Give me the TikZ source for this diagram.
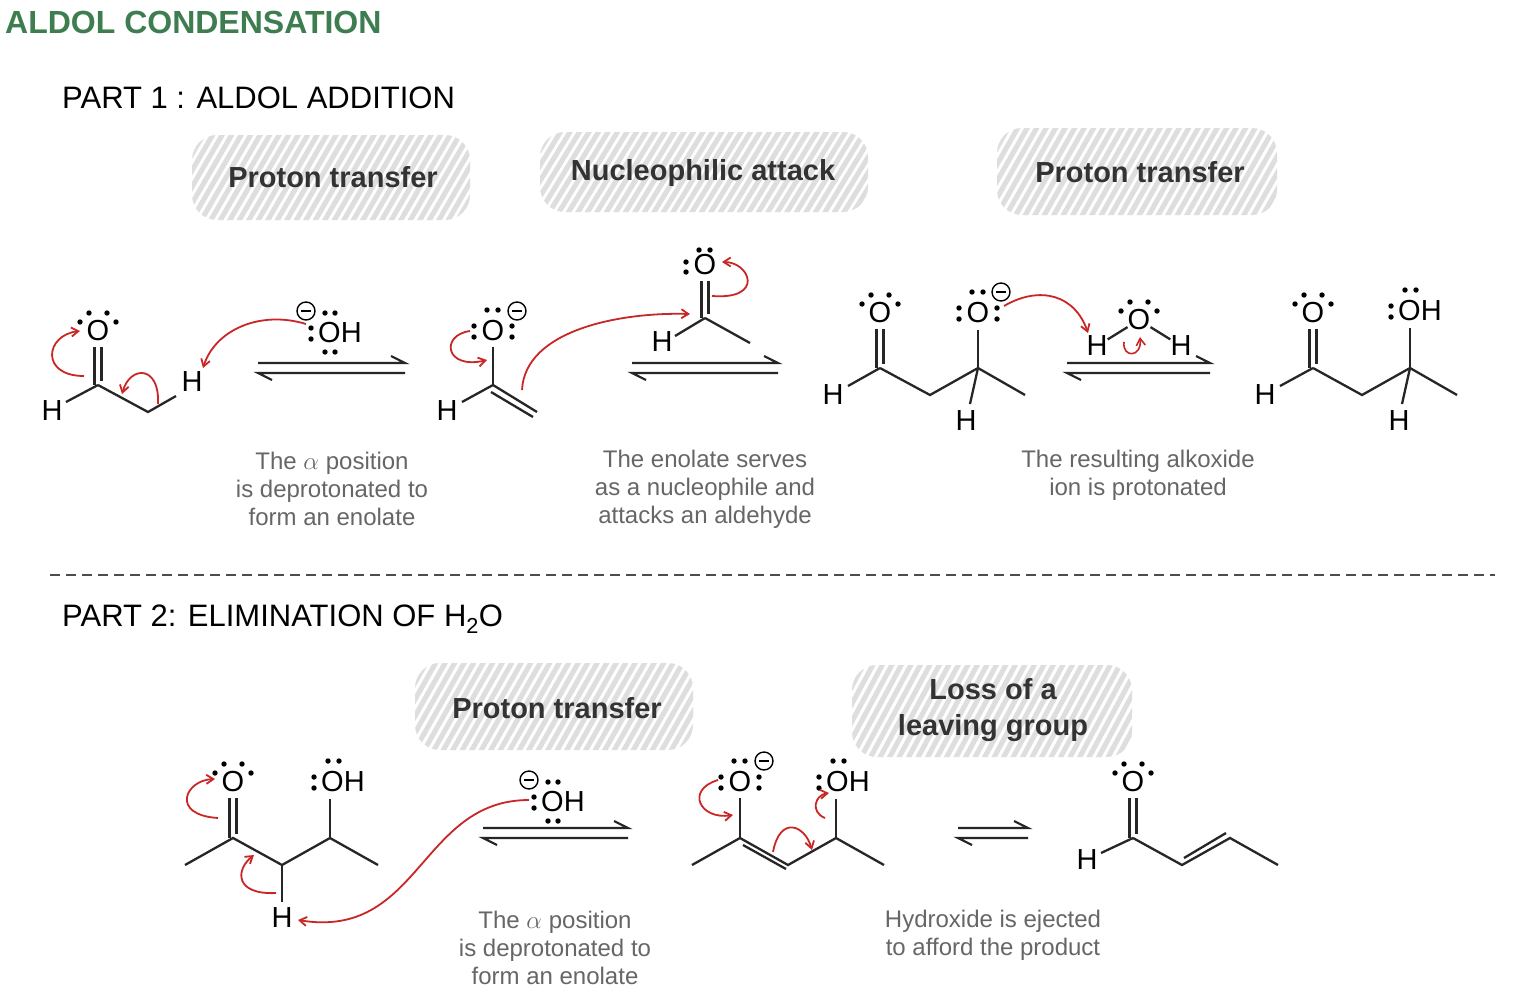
\documentclass[tikz,border=0pt]{standalone}
\usepackage{fontspec}
\setmainfont{Liberation Sans}
\usetikzlibrary{arrows.meta}
\begin{document}
\begin{tikzpicture}[x=1pt,y=-1pt,
  atom/.style={inner sep=0pt,font=\fontsize{29}{29}\selectfont},
  hdr/.style={inner sep=0pt,font=\fontsize{29}{29}\selectfont\bfseries,text=black!80,align=center},
  note/.style={inner sep=0pt,font=\fontsize{24}{28}\selectfont,text=black!60,align=center},
  part/.style={inner sep=0pt,anchor=west,font=\fontsize{31}{31}\selectfont},
  bond/.style={line width=2.3pt,black!85},
  rarr/.style={line width=1.8pt,color=red!75!black!85,-{Straight Barb[length=7pt,width=9pt]}},
  eq/.style={line width=2.2pt,black!85}]
\useasboundingbox (0,0) rectangle (1520,996);
\fill[white] (0,0) rectangle (1520,996);
\newcommand\lp[2]{\fill[black] (#1,#2) circle (2.7);}
\newcommand\Otop[2]{\lp{#1-18}{#2-9}\lp{#1-9}{#2-18}\lp{#1+9}{#2-18}\lp{#1+18}{#2-9}}
\newcommand\Oeno[2]{\lp{#1-19}{#2-5}\lp{#1-19}{#2+6}\lp{#1-6}{#2-21}\lp{#1+5}{#2-21}\lp{#1+19}{#2-5}\lp{#1+19}{#2+6}}
\newcommand\Ooh[2]{\lp{#1-19}{#2-5}\lp{#1-19}{#2+6}\lp{#1-5}{#2-21}\lp{#1+6}{#2-21}}
\newcommand\minus[2]{\draw[line width=1.4pt] (#1,#2) circle (9); \draw[line width=1.6pt] (#1-5,#2)--(#1+5,#2);}
\newcommand\hydroxide[2]{\node[atom,anchor=west] (hx) at (#1-12,#2) {OH};
  \lp{#1-19}{#2-5}\lp{#1-19}{#2+6}\lp{#1-5}{#2-20}\lp{#1+5}{#2-20}\lp{#1-5}{#2+19}\lp{#1+5}{#2+19}\minus{#1-24}{#2-22}}
\newcommand\eqarrow[3]{\draw[eq] (#1,#3)--(#2,#3)--(#2-14,#3-7); \draw[eq] (#2,#3+10)--(#1,#3+10)--(#1+14,#3+17);}
\newcommand\hatchbox[4]{\begin{scope}\clip[rounded corners=25] (#1,#2) rectangle (#3,#4);
  \foreach \k in {0,...,42}{\draw[line width=5pt,black!13,line cap=round] ({#1-60+\k*9.5},#4+5) -- ++(55,{#2-#4-10});}\end{scope}}
% title
\node[inner sep=0pt,anchor=west,font=\fontsize{32}{32}\selectfont\bfseries,text={rgb,255:red,62;green,125;blue,80}] (title) at (5,22) {ALDOL CONDENSATION};
\node[part] (p1) at (62,98) {PART 1 : ALDOL ADDITION};
\node[part] (p2) at (62,619) {PART 2: ELIMINATION OF H\textsubscript{2}O};
\draw[line width=2pt,black!70,dash pattern=on 10pt off 6pt] (50,575)--(1495,575);
% headers
\hatchbox{192}{135}{470}{220}\node[hdr] (h1) at (333,177) {Proton transfer};
\hatchbox{540}{132}{868}{212}\node[hdr] (h2) at (703,173) {Nucleophilic attack};
\hatchbox{997}{128}{1277}{215}\node[hdr] (h3) at (1140,172) {Proton transfer};
\hatchbox{415}{663}{693}{750}\node[hdr] (h4) at (557,708) {Proton transfer};
\hatchbox{852}{665}{1132}{757}\node[hdr,font=\fontsize{29}{36}\selectfont\bfseries] (h5) at (993,710) {Loss of a\\leaving group};
% notes
\node[note] (n1) at (332,489) {The $\alpha$ position\\is deprotonated to\\form an enolate};
\node[note] (n2) at (705,489) {The enolate serves\\as a nucleophile and\\attacks an aldehyde};
\node[note] (n3) at (1138,475) {The resulting alkoxide\\ion is protonated};
\node[note] (n4) at (555,948) {The $\alpha$ position\\is deprotonated to\\form an enolate};
\node[note] (n5) at (993,935) {Hydroxide is ejected\\to afford the product};
% ---- Mol A
\node[atom] (oa) at (98,331) {O}; \Otop{98}{331}
\node[atom] (ha1) at (52,411) {H}; \node[atom] (ha2) at (192,382) {H};
\coordinate (ca) at (98,385); \coordinate (cha) at (148,412);
\draw[bond] (94.5,347)--(94.5,385); \draw[bond] (101.5,347)--(101.5,381);
\draw[bond] (ca)--(66,402); \draw[bond] (ca)--(cha)--(176,396);
\draw[rarr] (84,376) .. controls (40,376) and (45,335) .. (80,331);
\draw[rarr] (158,404) .. controls (160,365) and (130,365) .. (122,394);
\hydroxide{330}{333}
\draw[rarr] (306,324) .. controls (260,310) and (215,330) .. (203,368);
\eqarrow{258}{405}{363}
% ---- Mol B
\node[atom] (ob) at (493,331) {O}; \Oeno{493}{331}\minus{517}{311}
\node[atom] (hb) at (447,411) {H};
\coordinate (cb) at (493,385); \coordinate (chb) at (537,412);
\draw[bond] (493,347)--(cb); \draw[bond] (cb)--(462,402);
\draw[bond] (cb)--(chb); \draw[bond] (491,392)--(533,417);
\draw[rarr] (470,331) .. controls (440,335) and (445,370) .. (487,360);
\draw[rarr] (522,390) .. controls (525,330) and (620,312) .. (690,314);
\node[atom] (oc) at (705,265) {O}; \lp{686}{262}\lp{686}{272}\lp{699}{250}\lp{710}{250}
\node[atom] (hc) at (662,342) {H};
\coordinate (cc) at (705,318);
\draw[bond] (701.5,281)--(701.5,318); \draw[bond] (708.5,281)--(708.5,314);
\draw[bond] (cc)--(675,336); \draw[bond] (cc)--(750,343);
\draw[rarr] (712,296) .. controls (765,300) and (750,262) .. (722,262);
\eqarrow{632}{778}{363}
% ---- Mol C
\node[atom] (od) at (880,313) {O}; \Otop{880}{313}
\node[atom] (hd1) at (833,395) {H}; \node[atom] (hd2) at (966,421) {H};
\node[atom] (oe) at (978,313) {O}; \Oeno{978}{313}\minus{1001}{292}
\coordinate (cd) at (880,368); \coordinate (cd2) at (930,395); \coordinate (cd3) at (978,368);
\draw[bond] (876.5,329)--(876.5,368); \draw[bond] (883.5,329)--(883.5,364);
\draw[bond] (cd)--(848,386); \draw[bond] (cd)--(cd2)--(cd3)--(1025,395);
\draw[bond] (cd3)--(978,330); \draw[bond] (cd3)--(970,404);
\draw[rarr] (1004,306) .. controls (1040,285) and (1075,295) .. (1088,333);
\node[atom] (ow) at (1139,320) {O}; \Otop{1139}{320}
\node[atom] (hw1) at (1097,346) {H}; \node[atom] (hw2) at (1181,346) {H};
\draw[bond] (ow)--(hw1); \draw[bond] (ow)--(hw2);
\draw[rarr,line width=1.6pt] (1124,342) .. controls (1122,358) and (1142,358) .. (1140,337);
\eqarrow{1067}{1210}{363}
% ---- Mol D
\node[atom] (of) at (1313,313) {O}; \Otop{1313}{313}
\node[atom] (hf1) at (1265,395) {H}; \node[atom] (hf2) at (1399,421) {H};
\node[atom,anchor=west] (ohf) at (1398,311) {OH}; \Ooh{1410}{311}
\coordinate (cf) at (1313,368); \coordinate (cf2) at (1362,395); \coordinate (cf3) at (1410,368);
\draw[bond] (1309.5,329)--(1309.5,368); \draw[bond] (1316.5,329)--(1316.5,364);
\draw[bond] (cf)--(1280,386); \draw[bond] (cf)--(cf2)--(cf3)--(1457,395);
\draw[bond] (cf3)--(1410,328); \draw[bond] (cf3)--(1402,404);
% ---- Part 2 Mol E
\node[atom] (og) at (233,782) {O}; \Otop{233}{782}
\node[atom,anchor=west] (ohg) at (321,782) {OH}; \Ooh{333}{782}
\node[atom] (hg) at (282,918) {H};
\coordinate (cg) at (233,838); \coordinate (cg2) at (282,865); \coordinate (cg3) at (330,838);
\draw[bond] (229.5,798)--(229.5,838); \draw[bond] (236.5,798)--(236.5,834);
\draw[bond] (185,865)--(cg)--(cg2)--(cg3)--(378,865);
\draw[bond] (cg3)--(330,799); \draw[bond] (cg2)--(282,902);
\draw[rarr] (218,818) .. controls (170,815) and (185,780) .. (215,779);
\draw[rarr] (276,893) .. controls (235,895) and (235,870) .. (254,855);
\hydroxide{553}{802}
\draw[rarr] (529,800) .. controls (420,800) and (420,940) .. (298,920);
\eqarrow{483}{628}{828}
% ---- Mol F
\node[atom] (oh) at (740,782) {O}; \Oeno{740}{782}\minus{764}{761}
\node[atom,anchor=west] (ohh) at (826,782) {OH}; \Ooh{838}{782}
\coordinate (ch) at (740,838); \coordinate (ch2) at (788,865); \coordinate (ch3) at (836,838);
\draw[bond] (740,798)--(ch); \draw[bond] (692,865)--(ch)--(ch2)--(ch3)--(884,865);
\draw[bond] (743,845)--(786,869);
\draw[bond] (ch3)--(836,799);
\draw[rarr] (718,780) .. controls (685,790) and (700,820) .. (733,815);
\draw[rarr] (773,852) .. controls (780,815) and (805,825) .. (812,850);
\draw[rarr] (825,818) .. controls (810,812) and (815,795) .. (829,793);
\eqarrow{958}{1028}{828}
% ---- Mol G
\node[atom] (oi) at (1133,782) {O}; \Otop{1133}{782}
\node[atom] (hi) at (1087,860) {H};
\coordinate (ci) at (1133,838); \coordinate (ci2) at (1182,865); \coordinate (ci3) at (1230,838);
\draw[bond] (1129.5,798)--(1129.5,838); \draw[bond] (1136.5,798)--(1136.5,834);
\draw[bond] (ci)--(1101,853); \draw[bond] (ci)--(ci2)--(ci3)--(1278,865);
\draw[bond] (1184,858)--(1226,833);
\end{tikzpicture}
\end{document}
